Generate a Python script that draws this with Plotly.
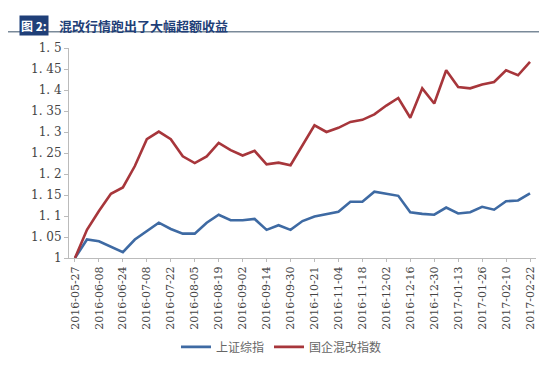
import plotly.graph_objects as go

dates = ["2016-05-27","2016-06-03","2016-06-08","2016-06-17","2016-06-24","2016-07-01","2016-07-08",
         "2016-07-15","2016-07-22","2016-07-29","2016-08-05","2016-08-12","2016-08-19","2016-08-26",
         "2016-09-02","2016-09-09","2016-09-14","2016-09-23","2016-09-30","2016-10-14","2016-10-21",
         "2016-10-28","2016-11-04","2016-11-11","2016-11-18","2016-11-25","2016-12-02","2016-12-09",
         "2016-12-16","2016-12-23","2016-12-30","2017-01-06","2017-01-13","2017-01-20","2017-01-26",
         "2017-02-03","2017-02-10","2017-02-17","2017-02-22"]

shanghai = [1.000,1.044,1.040,1.027,1.014,1.044,1.063,1.084,1.069,1.058,1.058,1.084,1.103,1.090,
            1.090,1.093,1.067,1.078,1.067,1.088,1.099,1.105,1.110,1.134,1.134,1.158,1.153,1.148,
            1.109,1.105,1.103,1.120,1.106,1.109,1.122,1.115,1.135,1.137,1.154]

soe_reform = [1.000,1.067,1.112,1.153,1.168,1.219,1.283,1.301,1.283,1.242,1.226,1.242,1.274,1.257,
              1.244,1.255,1.223,1.227,1.221,1.268,1.316,1.300,1.310,1.324,1.329,1.342,1.363,1.381,
              1.334,1.404,1.368,1.447,1.407,1.404,1.413,1.419,1.447,1.435,1.467]

tick_labels = dates[::2]
y_ticks = [1, 1.05, 1.1, 1.15, 1.2, 1.25, 1.3, 1.35, 1.4, 1.45, 1.5]
y_ticktext = ["1", "1. 05", "1. 1", "1. 15", "1. 2", "1. 25", "1. 3", "1. 35", "1. 4", "1. 45", "1. 5"]

fig = go.Figure()
fig.add_trace(go.Scatter(x=dates, y=shanghai, mode="lines", name="上证综指",
                         line=dict(color="#3E6AA3", width=2.6)))
fig.add_trace(go.Scatter(x=dates, y=soe_reform, mode="lines", name="国企混改指数",
                         line=dict(color="#A7363B", width=2.6)))

serif = "DejaVu Serif"
fig.update_layout(
    width=547, height=366,
    margin=dict(l=61, r=19, t=40, b=107),
    paper_bgcolor="white", plot_bgcolor="white",
    showlegend=True,
    legend=dict(orientation="h", x=0.455, xanchor="center", y=-0.423, yanchor="middle",
                font=dict(family="Noto Sans CJK SC", size=12, color="#666666"),
                itemwidth=30, tracegroupgap=0),
    xaxis=dict(type="category", range=[-0.5, 38.5], tickmode="array",
               tickvals=tick_labels, ticktext=tick_labels, tickangle=-90,
               showgrid=False, showline=True, linecolor="#BBBBBB", linewidth=1,
               ticks="outside", ticklen=3, tickcolor="#BBBBBB",
               tickfont=dict(family=serif, size=11, color="#444444")),
    yaxis=dict(range=[1, 1.5], tickmode="array", tickvals=y_ticks, ticktext=y_ticktext,
               showgrid=False, zeroline=False, showline=True, linecolor="#BBBBBB", linewidth=1,
               ticks="outside", ticklen=4, tickcolor="#BBBBBB",
               tickfont=dict(family=serif, size=12, color="#444444")),
)

fig.update_xaxes(minor=dict(ticks="outside", ticklen=3, tickcolor="#BBBBBB", showgrid=False))

fig.add_annotation(xref="paper", yref="paper", x=-0.107, y=1.105, xanchor="left", yanchor="middle",
                   text="<b>图 2:</b>", showarrow=False, bgcolor="#1F3F78",
                   font=dict(family="Noto Sans CJK SC", size=12, color="white"), borderpad=1)
fig.add_annotation(xref="paper", yref="paper", x=-0.025, y=1.105, xanchor="left", yanchor="middle",
                   text="<b>混改行情跑出了大幅超额收益</b>", showarrow=False,
                   font=dict(family="Noto Sans CJK SC", size=13, color="#1F3F78"))
fig.add_shape(type="line", xref="paper", yref="paper", x0=-0.132, x1=1.041, y0=1.0775, y1=1.0775,
              line=dict(color="#7A8A99", width=1.5))

fig.write_html("out.html")
